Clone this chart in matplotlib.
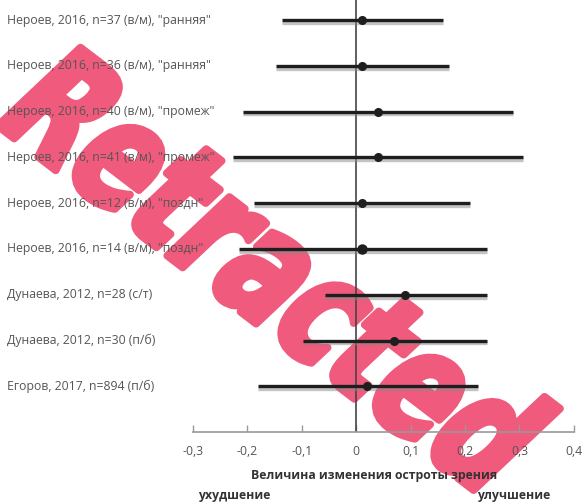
import matplotlib
matplotlib.use("Agg")
import matplotlib.pyplot as plt
import matplotlib.patheffects as pe
from matplotlib.ticker import FuncFormatter
from matplotlib.textpath import TextPath
from matplotlib.font_manager import FontProperties
from matplotlib.patches import PathPatch
from matplotlib.transforms import Affine2D, IdentityTransform

plt.rcParams['font.family'] = ['Open Sans', 'DejaVu Sans']

# исследования (сверху вниз)
исследования = [
    'Нероев, 2016, n=37 (в/м), "ранняя"',
    'Нероев, 2016, n=36 (в/м), "ранняя"',
    'Нероев, 2016, n=40 (в/м), "промеж"',
    'Нероев, 2016, n=41 (в/м), "промеж"',
    'Нероев, 2016, n=12 (в/м), "поздн"',
    'Нероев, 2016, n=14 (в/м), "поздн"',
    'Дунаева, 2012, n=28 (с/т)',
    'Дунаева, 2012, n=30 (п/б)',
    'Егоров, 2017, n=894 (п/б)',
]
эффект = [0.01, 0.01, 0.04, 0.04, 0.01, 0.01, 0.09, 0.07, 0.02]
нижн = [-0.136, -0.147, -0.208, -0.226, -0.187, -0.216, -0.057, -0.097, -0.181]
верхн = [0.160, 0.171, 0.289, 0.307, 0.209, 0.240, 0.240, 0.241, 0.224]

fig = plt.figure(figsize=(5.88, 5.03), dpi=100)
ax = fig.add_axes([0.328, 0.141, 0.648, 0.859])
ax.patch.set_visible(False)

тень = [pe.SimpleLineShadow(offset=(0, -2), shadow_color='#888888', alpha=0.5),
        pe.Normal()]

for i in range(len(исследования)):
    ax.plot([нижн[i], верхн[i]], [i, i], color='#1e1e1e', lw=2.4,
            solid_capstyle='butt', path_effects=тень, zorder=3)
    ax.plot(эффект[i], i, 'o', color='#1e1e1e', ms=6.5 if i == 5 else 5.5, zorder=4)

# подписи исследований слева
for i, name in enumerate(исследования):
    ax.annotate(name, xy=(7 / 588, i), xycoords=('figure fraction', 'data'),
                ha='left', va='center', fontsize=8.8, color='#555555',
                annotation_clip=False)

ax.axvline(0, color='#444444', lw=1.2, zorder=2)

ax.set_xlim(-0.3, 0.4)
ax.set_ylim(9.0, -0.44)
ax.set_xticks([-0.3, -0.2, -0.1, 0, 0.1, 0.2, 0.3, 0.4])
ax.xaxis.set_major_formatter(FuncFormatter(
    lambda v, p: ('%g' % round(v, 1)).replace('.', ',')))
ax.set_yticks([])
for s in ['top', 'right', 'left']:
    ax.spines[s].set_visible(False)
ax.spines['bottom'].set_color('#999999')
ax.spines['bottom'].set_linewidth(1.2)
ax.tick_params(axis='x', direction='in', length=5, width=1, colors='#999999',
               labelcolor='#555555', labelsize=8.8, pad=9)

fig.text(374 / 588, 1 - 476 / 503, 'Величина изменения остроты зрения',
         ha='center', va='center', fontsize=8.8, fontweight='bold', color='#333333')
fig.text(198 / 588, 1 - 495 / 503, 'ухудшение', ha='left', va='center',
         fontsize=8.8, fontweight='bold', color='#333333')
fig.text(477 / 588, 1 - 495 / 503, 'улучшение', ha='left', va='center',
         fontsize=8.8, fontweight='bold', color='#333333')

# штамп под графиком: узкий жирный текст по диагонали, сжатый по вертикали
штамп = TextPath((0, 0), 'Retracted', size=170,
                 prop=FontProperties(family='DejaVu Sans', weight='bold'))
ext = штамп.get_extents()
tr = (Affine2D()
      .translate(-(ext.x0 + ext.x1) / 2, -(ext.y0 + ext.y1) / 2)
      .scale(0.70, 1.0)
      .rotate_deg(-42)
      .scale(1.0, 0.85)
      .translate(278, 503 - 268))
fig.add_artist(PathPatch(tr.transform_path(штамп), fc='#f05a7c', ec='#f05a7c',
                         lw=5.5, joinstyle='round', transform=IdentityTransform(),
                         zorder=-1))

fig.savefig('out.png', dpi=100)
